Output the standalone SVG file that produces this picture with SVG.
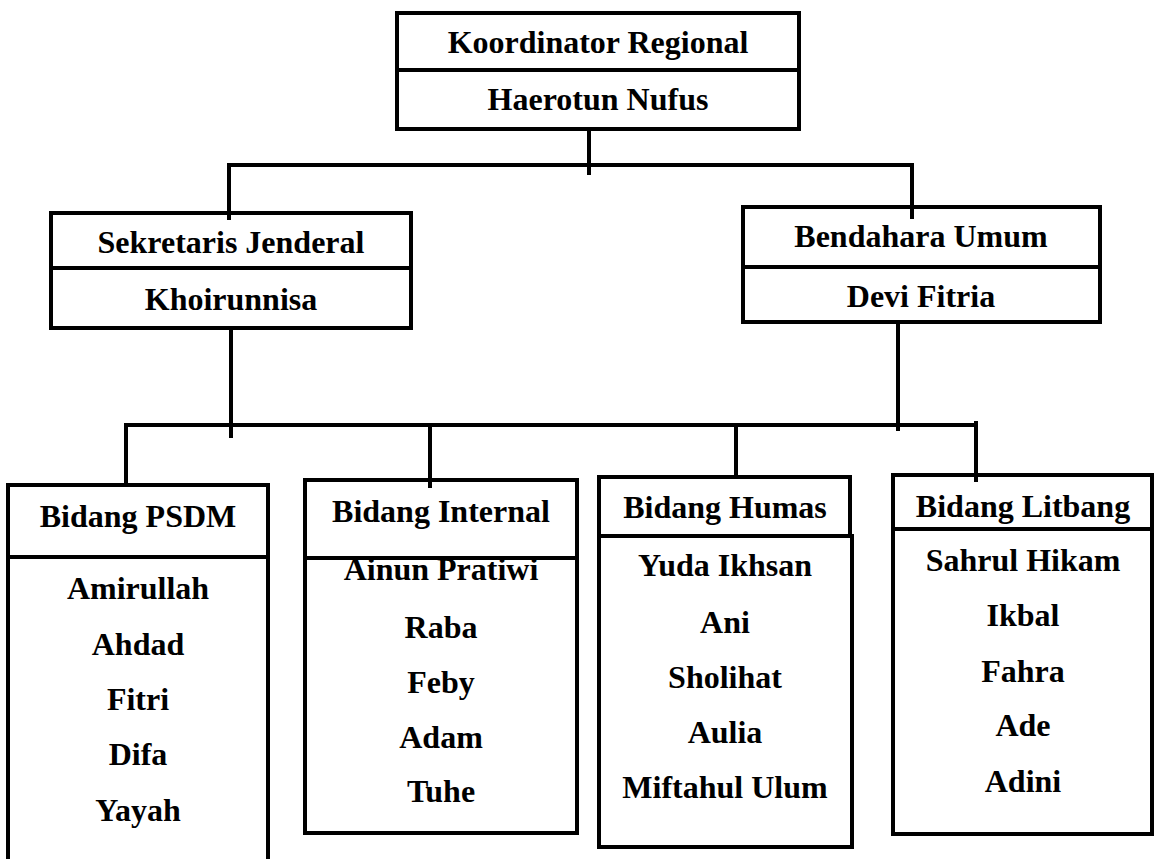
<svg xmlns="http://www.w3.org/2000/svg" width="1154" height="859" viewBox="0 0 1154 859">
<style>
.box{fill:none;stroke:#000;stroke-width:4}
.ln{fill:none;stroke:#000;stroke-width:4}
text{font-family:"Liberation Serif","Times New Roman",serif;font-weight:bold;font-size:32px;fill:#000;text-anchor:middle}
</style>
<rect width="1154" height="859" fill="#fff"/>
<g id="connectors">
<line class="ln" x1="589" y1="129" x2="589" y2="175"/>
<path class="ln" d="M229,220 V165 H912 V219"/>
<line class="ln" x1="231" y1="328" x2="231" y2="438"/>
<line class="ln" x1="898" y1="322" x2="898" y2="431"/>
<path class="ln" d="M126,485 V425 H976"/>
<line class="ln" x1="976" y1="421" x2="976" y2="482"/>
<line class="ln" x1="430" y1="425" x2="430" y2="488"/>
<line class="ln" x1="736" y1="425" x2="736" y2="477"/>
</g>
<g id="koordinator">
<rect class="box" x="397" y="13" width="402" height="116"/>
<line class="ln" x1="397" y1="70" x2="799" y2="70"/>
<text x="598" y="53">Koordinator Regional</text>
<text x="598" y="110">Haerotun Nufus</text>
</g>
<g id="sekretaris">
<rect class="box" x="51" y="213" width="360" height="115"/>
<line class="ln" x1="51" y1="268" x2="411" y2="268"/>
<text x="231" y="253">Sekretaris Jenderal</text>
<text x="231" y="310">Khoirunnisa</text>
</g>
<g id="bendahara">
<rect class="box" x="743" y="207" width="357" height="115"/>
<line class="ln" x1="743" y1="267" x2="1100" y2="267"/>
<text x="921" y="247">Bendahara Umum</text>
<text x="921" y="307">Devi Fitria</text>
</g>
<g id="psdm">
<rect class="box" x="8" y="485" width="260" height="400"/>
<line class="ln" x1="8" y1="557" x2="268" y2="557"/>
<text x="138" y="527">Bidang PSDM</text>
<text x="138" y="599">Amirullah</text>
<text x="138" y="655">Ahdad</text>
<text x="138" y="710">Fitri</text>
<text x="138" y="765">Difa</text>
<text x="138" y="821">Yayah</text>
</g>
<g id="internal">
<rect class="box" x="305" y="480" width="272" height="353"/>
<text x="441" y="522">Bidang Internal</text>
<text x="441" y="580">Ainun Pratiwi</text>
<line class="ln" x1="305" y1="558" x2="577" y2="558"/>
<text x="441" y="638">Raba</text>
<text x="441" y="693">Feby</text>
<text x="441" y="748">Adam</text>
<text x="441" y="802">Tuhe</text>
</g>
<g id="humas">
<rect class="box" x="599" y="477" width="251" height="59"/>
<rect class="box" x="599" y="536" width="253" height="311"/>
<text x="725" y="518">Bidang Humas</text>
<text x="725" y="576">Yuda Ikhsan</text>
<text x="725" y="633">Ani</text>
<text x="725" y="688">Sholihat</text>
<text x="725" y="743">Aulia</text>
<text x="725" y="798">Miftahul Ulum</text>
</g>
<g id="litbang">
<rect class="box" x="893" y="475" width="259" height="359"/>
<line class="ln" x1="893" y1="529" x2="1152" y2="529"/>
<text x="1023" y="517">Bidang Litbang</text>
<text x="1023" y="571">Sahrul Hikam</text>
<text x="1023" y="626">Ikbal</text>
<text x="1023" y="682">Fahra</text>
<text x="1023" y="736">Ade</text>
<text x="1023" y="792">Adini</text>
</g>
</svg>
